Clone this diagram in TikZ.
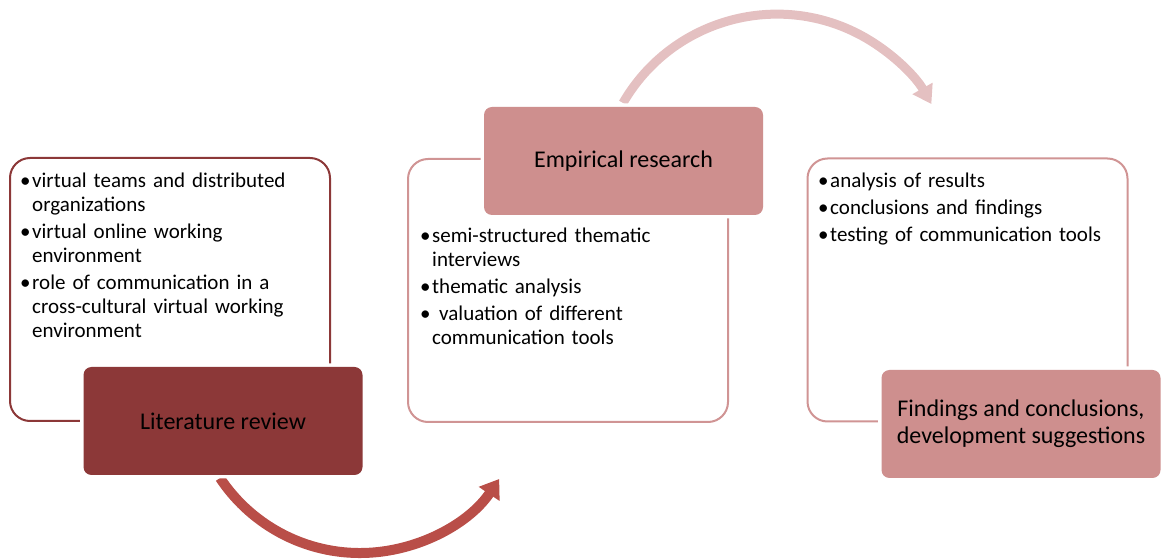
\documentclass[tikz,border=0pt]{standalone}
\usepackage{fontspec}
\setmainfont{Carlito}
\usetikzlibrary{arrows.meta}
\definecolor{darkred}{HTML}{8C3838}
\definecolor{rose}{HTML}{CE8F8E}
\definecolor{roseline}{HTML}{D09494}
\definecolor{arrowred}{HTML}{B94E48}
\definecolor{arrowpink}{HTML}{E4C0C1}
\newcommand\bitem[1]{\par\hangindent=12pt\hangafter=1\noindent\makebox[12pt][l]{\textbullet}#1\par}
\begin{document}
\begin{tikzpicture}[x=1pt, y=1pt,
    panel/.style={draw, rounded corners=20pt, line width=2pt, inner sep=0pt, minimum width=320pt, minimum height=263pt},
    titlebox/.style={rounded corners=8pt, inner sep=0pt, minimum width=279pt, minimum height=108pt,
        align=center, font=\fontsize{24}{27}\selectfont, preaction={draw=white, line width=7pt}},
    bullettext/.style={anchor=north west, inner sep=0pt, text width=300pt, align=left,
        font={\fontsize{21}{24}\selectfont\setlength{\parskip}{3pt}}}]
    \useasboundingbox (0, 0) rectangle (1163, 560);
%
    \coordinate (botstart) at (220, 82);
    \draw [arrowred, line width=10pt, -{Triangle[length=18pt, width=24pt]}]
        (botstart) arc [start angle=213.6, end angle=326, radius=168];
    \coordinate (topstart) at (623, 457);
    \draw [arrowpink, line width=9pt, -{Triangle[length=18pt, width=22pt]}]
        (topstart) arc [start angle=150, end angle=29.6, radius=177.7];
%
    \node [panel, draw=darkred] (litpanel) at (170, 270.5) {};
    \node [panel, draw=roseline] (emppanel) at (568, 269.5) {};
    \node [panel, draw=roseline] (finpanel) at (967.5, 270) {};
%
    \node [titlebox, fill=darkred] (litbox) at (223, 139) {Literature review};
    \node [titlebox, fill=rose] (empbox) at (623.5, 399) {Empirical research};
    \node [titlebox, fill=rose] (finbox) at (1021, 136) {Findings and conclusions,\\development suggestions};
%
    \node [bullettext] (littext) at (20, 400) {%
        \bitem{virtual teams and distributed\newline organizations}
        \bitem{virtual online working\newline environment}
        \bitem{role of communication in a\newline cross-cultural virtual working\newline environment}};
    \node [bullettext] (emptext) at (420, 345) {%
        \bitem{semi-structured thematic\newline interviews}
        \bitem{thematic analysis}
        \bitem{\ valuation of different\newline communication tools}};
    \node [bullettext] (fintext) at (818, 400) {%
        \bitem{analysis of results}
        \bitem{conclusions and findings}
        \bitem{testing of communication tools}};
\end{tikzpicture}
\end{document}
